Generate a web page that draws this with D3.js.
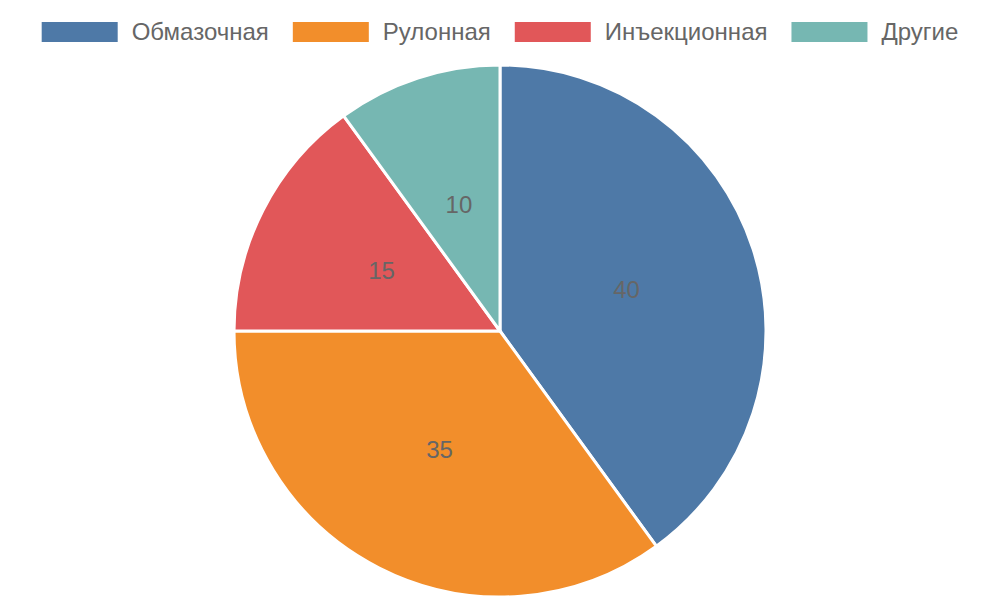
<!DOCTYPE html>
<html>
<head>
<meta charset="utf-8">
<script src="https://cdn.jsdelivr.net/npm/d3@7"></script>
<style>
  body { margin: 0; background: #fff; }
  text { font-family: "Liberation Sans", Arial, sans-serif; }
</style>
</head>
<body>
<div id="chart"></div>
<script>
    // data
    var categories = ["Обмазочная", "Рулонная", "Инъекционная", "Другие"];
    var values = [40, 35, 15, 10];
    var colors = ["#4e79a7", "#f28e2b", "#e15759", "#76b7b2"];

    var width = 1000, height = 600;
    var cx = 500, cy = 331, radius = 266;

    var svg = d3.select("#chart")
      .append("svg")
      .attr("width", width)
      .attr("height", height);

    var data = categories.map(function (c, i) { return { name: c, value: values[i] }; });

    var color = d3.scaleOrdinal().domain(categories).range(colors);

    var pie = d3.pie()
      .sort(null)
      .value(function (d) { return d.value; });

    var arc = d3.arc().innerRadius(0).outerRadius(radius);

    var g = svg.append("g")
      .attr("transform", "translate(" + cx + "," + cy + ")");

    var arcs = pie(data);

    g.selectAll("path")
      .data(arcs)
      .enter()
      .append("path")
      .attr("d", arc)
      .attr("fill", function (d) { return color(d.data.name); })
      .attr("stroke", "#fff")
      .attr("stroke-width", 3)
      .attr("stroke-linejoin", "round");

    // value labels at the centroid
    g.selectAll("text.val")
      .data(arcs)
      .enter()
      .append("text")
      .attr("class", "val")
      .attr("transform", function (d) { return "translate(" + arc.centroid(d) + ")"; })
      .attr("text-anchor", "middle")
      .attr("dy", "0.35em")
      .style("font-size", "24px")
      .style("fill", "#666")
      .text(function (d) { return d.data.value; });

    // legend
    var boxW = 76, boxH = 20, boxGap = 14, itemGap = 24, legY = 32;
    var legend = svg.append("g");
    var items = legend.selectAll("g")
      .data(data)
      .enter()
      .append("g");
    items.append("rect")
      .attr("width", boxW)
      .attr("height", boxH)
      .attr("y", legY - boxH / 2)
      .attr("fill", function (d) { return color(d.name); });
    items.append("text")
      .attr("x", boxW + boxGap)
      .attr("y", legY)
      .attr("dy", "0.35em")
      .style("font-size", "24px")
      .style("fill", "#666")
      .text(function (d) { return d.name; });

    var xpos = 0, offsets = [];
    items.each(function () {
      var w = boxW + boxGap + d3.select(this).select("text").node().getComputedTextLength();
      offsets.push(xpos);
      xpos += w + itemGap;
    });
    var total = xpos - itemGap;
    var start = (width - total) / 2;
    items.attr("transform", function (d, i) { return "translate(" + (start + offsets[i]) + ",0)"; });
</script>
</body>
</html>
